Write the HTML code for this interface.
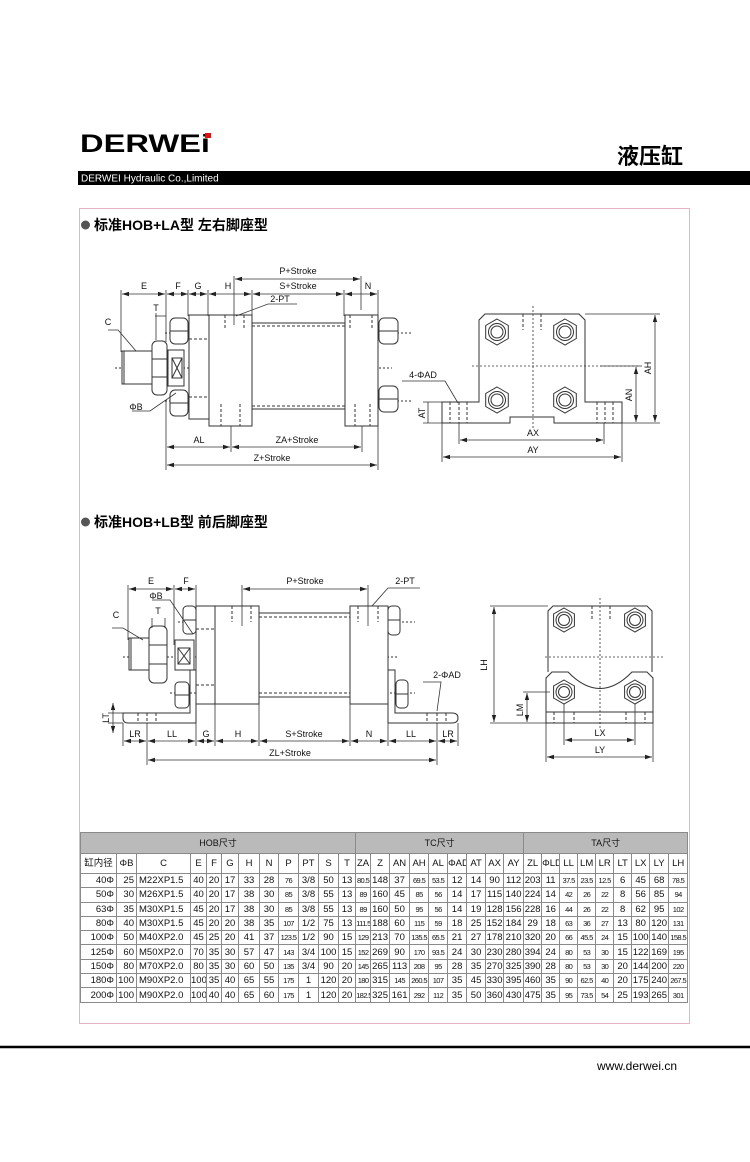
<!DOCTYPE html>
<html><head><meta charset="utf-8">
<style>
body{margin:0;background:#fff;}
#pg{position:relative;width:750px;height:1162px;overflow:hidden;font-family:"Liberation Sans","Noto Sans CJK SC",sans-serif;}
svg{position:absolute;left:0;top:0;}
table{position:absolute;left:80px;top:832px;border-collapse:collapse;table-layout:fixed;width:607px;font-size:9.5px;color:#111;}
td{border:1px solid #8a8a8a;padding:0;text-align:center;height:13.3px;line-height:13px;white-space:nowrap;overflow:hidden;}
tr.h1 td{background:#bababa;height:20px;font-size:9px;}
tr.h2 td{height:19px;font-size:9.5px;}
td.l{text-align:left;padding-left:2px}
td.r{text-align:right;padding-right:2px}
.s{font-size:7.5px;letter-spacing:-0.6px}
</style></head><body><div id="pg">
<svg width="750" height="1162" viewBox="0 0 750 1162" font-family="Liberation Sans, Noto Sans CJK SC, sans-serif">
<defs>
<marker id="a" markerWidth="8" markerHeight="6" refX="7" refY="3" orient="auto-start-reverse" markerUnits="userSpaceOnUse"><path d="M0,0.8 L7,3 L0,5.2 z" fill="#222"/></marker>
<g id="hx"><polygon points="0,-13 11.3,-6.5 11.3,6.5 0,13 -11.3,6.5 -11.3,-6.5" fill="#fff" stroke="#333"/><circle r="8.5" fill="none" stroke="#333"/><circle r="6" fill="none" stroke="#333"/></g>
<g id="hs"><polygon points="0,-12 10.4,-6 10.4,6 0,12 -10.4,6 -10.4,-6" fill="#fff" stroke="#333"/><circle r="8" fill="none" stroke="#333"/><circle r="5.5" fill="none" stroke="#333"/></g>
</defs>
<!-- header -->
<text x="80" y="152" font-size="25" font-weight="900" textLength="130" lengthAdjust="spacingAndGlyphs">DERWEi</text>
<rect x="205" y="133" width="6" height="5" fill="#e01010"/>
<text x="617" y="164" font-size="22" font-weight="bold">液压缸</text>
<rect x="78" y="171" width="672" height="14" fill="#000"/>
<text x="81" y="181.5" font-size="10" fill="#fff">DERWEI Hydraulic Co.,Limited</text>
<rect x="79.5" y="208.5" width="610" height="815" fill="none" stroke="#e6b3c6"/>
<line x1="0" y1="1047" x2="750" y2="1047" stroke="#000" stroke-width="2.5"/>
<text x="597" y="1070" font-size="12">www.derwei.cn</text>
<!-- headings -->
<circle cx="85.5" cy="225" r="4.5" fill="#555"/>
<text x="94" y="230" font-size="14" font-weight="bold">标准HOB+LA型 左右脚座型</text>
<circle cx="85.5" cy="522" r="4.5" fill="#555"/>
<text x="94" y="527" font-size="14" font-weight="bold">标准HOB+LB型 前后脚座型</text>

<g stroke="#333" stroke-width="1" fill="none">
<!-- ===== Drawing 1 side view ===== -->
<line x1="115" y1="368" x2="392" y2="368" stroke-dasharray="2,2"/>
<line x1="165" y1="333" x2="412" y2="333" stroke-dasharray="2,2"/>
<line x1="165" y1="401" x2="412" y2="401" stroke-dasharray="2,2"/>
<rect x="122" y="351" width="30" height="33" fill="#fff"/>
<line x1="124" y1="351" x2="124" y2="384"/>
<rect x="152" y="341" width="15" height="54" rx="5" fill="#fff"/>
<line x1="152" y1="359" x2="167" y2="359"/><line x1="152" y1="377" x2="167" y2="377"/>
<rect x="168" y="350" width="16" height="36" fill="#fff"/>
<rect x="172" y="358" width="10" height="20"/><path d="M172,358 L182,378 M182,358 L172,378"/>
<rect x="189" y="315" width="20" height="104" fill="#fff"/>
<rect x="209" y="315" width="43" height="111" fill="#fff"/>
<rect x="252" y="323" width="93" height="86" fill="#fff"/>
<rect x="345" y="315" width="33" height="111" fill="#fff"/>
<rect x="170" y="318" width="18" height="26" rx="5" fill="#fff"/><line x1="170" y1="331" x2="188" y2="331"/>
<rect x="170" y="390" width="18" height="26" rx="5" fill="#fff"/><line x1="170" y1="403" x2="188" y2="403"/>
<rect x="379" y="318" width="19" height="26" rx="5" fill="#fff"/><line x1="379" y1="331" x2="398" y2="331"/>
<rect x="379" y="386" width="19" height="26" rx="5" fill="#fff"/><line x1="379" y1="399" x2="398" y2="399"/>
<g stroke-dasharray="3,2">
<line x1="225" y1="315" x2="225" y2="330"/><line x1="244" y1="315" x2="244" y2="330"/>
<line x1="350" y1="315" x2="350" y2="330"/><line x1="372" y1="315" x2="372" y2="330"/>
<line x1="221" y1="404" x2="221" y2="426"/><line x1="240" y1="404" x2="240" y2="426"/>
<line x1="355" y1="404" x2="355" y2="426"/><line x1="370" y1="404" x2="370" y2="426"/>
<line x1="252" y1="326" x2="345" y2="326"/><line x1="252" y1="406" x2="345" y2="406"/>
<line x1="189" y1="339" x2="209" y2="339"/><line x1="189" y1="397" x2="209" y2="397"/>
</g>
<!-- dims top -->
<g stroke-width="0.8">
<line x1="121" y1="290" x2="121" y2="352"/><line x1="166" y1="290" x2="166" y2="342"/>
<line x1="188" y1="290" x2="188" y2="316"/><line x1="208" y1="290" x2="208" y2="316"/>
<line x1="252" y1="290" x2="252" y2="316"/><line x1="344" y1="290" x2="344" y2="316"/>
<line x1="378" y1="290" x2="378" y2="316"/><line x1="234" y1="276" x2="234" y2="325"/>
<line x1="361" y1="276" x2="361" y2="310"/>
<line x1="167" y1="294" x2="188" y2="294" marker-start="url(#a)" marker-end="url(#a)"/>
<line x1="122" y1="294" x2="165" y2="294" marker-start="url(#a)" marker-end="url(#a)"/>
<line x1="189" y1="294" x2="207" y2="294" marker-start="url(#a)" marker-end="url(#a)"/>
<line x1="209" y1="294" x2="251" y2="294" marker-start="url(#a)" marker-end="url(#a)"/>
<line x1="253" y1="294" x2="343" y2="294" marker-start="url(#a)" marker-end="url(#a)"/>
<line x1="345" y1="294" x2="377" y2="294" marker-start="url(#a)" marker-end="url(#a)"/>
<line x1="235" y1="279" x2="360" y2="279" marker-start="url(#a)" marker-end="url(#a)"/>
<line x1="155" y1="316" x2="166" y2="316"/><line x1="156" y1="313" x2="156" y2="340"/>
<path d="M236,316 L268,304 L297,304"/>
<path d="M108,330 L118,330 L136,351"/>
<path d="M132,411 L150,411 L176,393"/>
<line x1="166" y1="400" x2="166" y2="470"/><line x1="378" y1="426" x2="378" y2="470"/>
<line x1="231" y1="426" x2="231" y2="452"/><line x1="362" y1="426" x2="362" y2="452"/>
<line x1="167" y1="447" x2="230" y2="447" marker-start="url(#a)" marker-end="url(#a)"/>
<line x1="232" y1="447" x2="361" y2="447" marker-start="url(#a)" marker-end="url(#a)"/>
<line x1="167" y1="465" x2="377" y2="465" marker-start="url(#a)" marker-end="url(#a)"/>
</g>
<!-- ===== Drawing 1 end view ===== -->
<path d="M479,402 L479,320 L485,314 L579,314 L585,320 L585,402 L622,402 L622,423 L554,423 L554,417 L510,417 L510,423 L442,423 L442,402 Z" fill="#fff"/>
<line x1="533" y1="306" x2="533" y2="430" stroke-dasharray="2,2" stroke-width="0.8"/>
<line x1="472" y1="366" x2="642" y2="366" stroke-dasharray="2,2" stroke-width="0.8"/>
<g stroke-dasharray="3,2"><line x1="523" y1="314" x2="523" y2="330"/><line x1="541" y1="314" x2="541" y2="330"/>
<line x1="450" y1="402" x2="450" y2="423"/><line x1="459" y1="402" x2="459" y2="423"/><line x1="467" y1="402" x2="467" y2="423"/>
<line x1="597" y1="402" x2="597" y2="423"/><line x1="605" y1="402" x2="605" y2="423"/><line x1="613" y1="402" x2="613" y2="423"/></g>
<use href="#hx" x="497" y="332"/><use href="#hx" x="565" y="332"/><use href="#hx" x="497" y="400"/><use href="#hx" x="565" y="400"/>
<g stroke-width="0.8">
<line x1="585" y1="314" x2="660" y2="314"/><line x1="622" y1="423" x2="660" y2="423"/><line x1="600" y1="366" x2="640" y2="366"/>
<line x1="655" y1="315" x2="655" y2="422" marker-start="url(#a)" marker-end="url(#a)"/>
<line x1="636" y1="367" x2="636" y2="422" marker-start="url(#a)" marker-end="url(#a)"/>
<line x1="423" y1="402" x2="442" y2="402"/><line x1="423" y1="423" x2="442" y2="423"/><line x1="428" y1="402" x2="428" y2="423"/>
<line x1="442" y1="423" x2="442" y2="462"/><line x1="622" y1="423" x2="622" y2="462"/>
<line x1="459" y1="423" x2="459" y2="444"/><line x1="604" y1="423" x2="604" y2="444"/>
<line x1="460" y1="440" x2="603" y2="440" marker-start="url(#a)" marker-end="url(#a)"/>
<line x1="443" y1="457" x2="621" y2="457" marker-start="url(#a)" marker-end="url(#a)"/>
<path d="M402,381 L445,381 L458,403"/>
</g>

<!-- ===== Drawing 2 side view ===== -->
<path d="M123,713 L190,713 L190,670 L196,670 L196,723 L128,723 Q123,723 123,718 Z" fill="#fff"/>
<path d="M388,670 L395,670 L395,713 L452,713 Q458,713 458,718 Q458,723 452,723 L388,723 Z" fill="#fff"/>
<line x1="123" y1="657" x2="398" y2="657" stroke-dasharray="2,2"/>
<line x1="178" y1="622" x2="415" y2="622" stroke-dasharray="2,2"/>
<line x1="170" y1="693" x2="415" y2="693" stroke-dasharray="2,2"/>
<rect x="129" y="638" width="21" height="32" fill="#fff"/><line x1="131" y1="638" x2="131" y2="670"/>
<rect x="149" y="626" width="18" height="57" rx="5" fill="#fff"/>
<line x1="149" y1="645" x2="167" y2="645"/><line x1="149" y1="664" x2="167" y2="664"/>
<rect x="175" y="640" width="19" height="30" fill="#fff"/>
<rect x="178" y="648" width="12" height="16"/><path d="M178,648 L190,664 M190,648 L178,664"/>
<rect x="196" y="606" width="19" height="98" fill="#fff"/>
<rect x="215" y="606" width="44" height="98" fill="#fff"/>
<rect x="259" y="613" width="91" height="84" fill="#fff"/>
<rect x="350" y="606" width="38" height="98" fill="#fff"/>
<rect x="183" y="606" width="13" height="28" rx="4" fill="#fff"/><line x1="183" y1="620" x2="196" y2="620"/>
<rect x="175" y="682" width="14" height="26" rx="4" fill="#fff"/><line x1="175" y1="695" x2="189" y2="695"/>
<rect x="388" y="606" width="12" height="29" rx="4" fill="#fff"/><line x1="388" y1="620" x2="400" y2="620"/>
<rect x="396" y="680" width="12" height="28" rx="4" fill="#fff"/><line x1="396" y1="694" x2="408" y2="694"/>
<g stroke-dasharray="3,2">
<line x1="232" y1="606" x2="232" y2="622"/><line x1="251" y1="606" x2="251" y2="622"/>
<line x1="358" y1="606" x2="358" y2="622"/><line x1="378" y1="606" x2="378" y2="622"/>
<line x1="259" y1="617" x2="350" y2="617"/><line x1="259" y1="693" x2="350" y2="693"/>
<line x1="196" y1="629" x2="215" y2="629"/><line x1="196" y1="685" x2="215" y2="685"/>
<line x1="138" y1="713" x2="138" y2="723"/><line x1="147" y1="713" x2="147" y2="723"/><line x1="156" y1="713" x2="156" y2="723"/>
<line x1="427" y1="713" x2="427" y2="723"/><line x1="437" y1="713" x2="437" y2="723"/><line x1="446" y1="713" x2="446" y2="723"/>
</g>
<g stroke-width="0.8">
<line x1="128" y1="585" x2="128" y2="640"/><line x1="174" y1="585" x2="174" y2="645"/><line x1="196" y1="585" x2="196" y2="606"/>
<line x1="129" y1="589" x2="173" y2="589" marker-start="url(#a)" marker-end="url(#a)"/>
<line x1="175" y1="589" x2="195" y2="589" marker-start="url(#a)" marker-end="url(#a)"/>
<line x1="242" y1="585" x2="242" y2="626"/><line x1="368" y1="585" x2="368" y2="626"/>
<line x1="243" y1="589" x2="367" y2="589" marker-start="url(#a)" marker-end="url(#a)"/>
<path d="M372,606 L388,588 L420,588"/>
<path d="M152,600 L170,600 L193,634"/>
<line x1="152" y1="618" x2="152" y2="628"/><line x1="165" y1="618" x2="165" y2="628"/>
<path d="M112,628 L123,628 L143,640"/>
<path d="M423,682 L441,682 L437,711"/>
<line x1="113" y1="703" x2="113" y2="733" marker-start="url(#a)" marker-end="url(#a)"/>
<line x1="108" y1="713" x2="123" y2="713"/><line x1="108" y1="723" x2="123" y2="723"/>
<line x1="123" y1="723" x2="123" y2="746"/><line x1="147" y1="723" x2="147" y2="765"/>
<line x1="196" y1="723" x2="196" y2="746"/><line x1="215" y1="704" x2="215" y2="746"/>
<line x1="259" y1="704" x2="259" y2="746"/><line x1="350" y1="704" x2="350" y2="746"/>
<line x1="388" y1="723" x2="388" y2="746"/><line x1="437" y1="723" x2="437" y2="765"/><line x1="458" y1="723" x2="458" y2="746"/>
<line x1="124" y1="741" x2="146" y2="741" marker-start="url(#a)" marker-end="url(#a)"/>
<line x1="148" y1="741" x2="195" y2="741" marker-start="url(#a)" marker-end="url(#a)"/>
<line x1="197" y1="741" x2="214" y2="741" marker-start="url(#a)" marker-end="url(#a)"/>
<line x1="216" y1="741" x2="258" y2="741" marker-start="url(#a)" marker-end="url(#a)"/>
<line x1="260" y1="741" x2="349" y2="741" marker-start="url(#a)" marker-end="url(#a)"/>
<line x1="351" y1="741" x2="387" y2="741" marker-start="url(#a)" marker-end="url(#a)"/>
<line x1="389" y1="741" x2="436" y2="741" marker-start="url(#a)" marker-end="url(#a)"/>
<line x1="438" y1="741" x2="457" y2="741" marker-start="url(#a)" marker-end="url(#a)"/>
<line x1="148" y1="760" x2="436" y2="760" marker-start="url(#a)" marker-end="url(#a)"/>
</g>
<!-- ===== Drawing 2 end view ===== -->
<path d="M548,672 L548,611 L553,606 L647,606 L652,611 L652,672" fill="#fff"/>
<path d="M546,723 L546,678 L552,672 L568,672 Q600,705 632,672 L647,672 L653,678 L653,723 Z" fill="#fff"/>
<line x1="546" y1="712" x2="653" y2="712"/>
<line x1="600" y1="598" x2="600" y2="730" stroke-dasharray="2,2" stroke-width="0.8"/>
<line x1="545" y1="657" x2="665" y2="657" stroke-dasharray="2,2" stroke-width="0.8"/>
<g stroke-dasharray="3,2"><line x1="592" y1="606" x2="592" y2="620"/><line x1="610" y1="606" x2="610" y2="620"/>
<line x1="554" y1="712" x2="554" y2="723"/><line x1="574" y1="712" x2="574" y2="723"/>
<line x1="626" y1="712" x2="626" y2="723"/><line x1="645" y1="712" x2="645" y2="723"/></g>
<use href="#hs" x="564" y="620"/><use href="#hs" x="635" y="620"/><use href="#hs" x="564" y="692"/><use href="#hs" x="635" y="692"/>
<g stroke-width="0.8">
<line x1="490" y1="606" x2="548" y2="606"/><line x1="490" y1="723" x2="546" y2="723"/>
<line x1="494" y1="607" x2="494" y2="722" marker-start="url(#a)" marker-end="url(#a)"/>
<line x1="523" y1="692" x2="550" y2="692"/>
<line x1="527" y1="693" x2="527" y2="722" marker-start="url(#a)" marker-end="url(#a)"/>
<line x1="546" y1="723" x2="546" y2="762"/><line x1="653" y1="723" x2="653" y2="762"/>
<line x1="564" y1="704" x2="564" y2="745"/><line x1="635" y1="704" x2="635" y2="745"/>
<line x1="565" y1="740" x2="634" y2="740" marker-start="url(#a)" marker-end="url(#a)"/>
<line x1="547" y1="757" x2="652" y2="757" marker-start="url(#a)" marker-end="url(#a)"/>
</g>
</g>
<!-- labels -->
<g font-size="9" fill="#111" text-anchor="middle">
<text x="144" y="289">E</text><text x="178" y="289">F</text><text x="198" y="289">G</text><text x="228" y="289">H</text>
<text x="298" y="289">S+Stroke</text><text x="368" y="289">N</text><text x="298" y="274">P+Stroke</text>
<text x="280" y="302">2-PT</text><text x="156" y="311">T</text><text x="108" y="325">C</text><text x="136" y="410">ΦB</text>
<text x="199" y="443">AL</text><text x="297" y="443">ZA+Stroke</text><text x="272" y="461">Z+Stroke</text>
<text x="423" y="378">4-ΦAD</text>
<text x="533" y="436">AX</text><text x="533" y="453">AY</text>
<text x="0" y="0" transform="translate(425,413) rotate(-90)">AT</text>
<text x="0" y="0" transform="translate(651,368) rotate(-90)">AH</text>
<text x="0" y="0" transform="translate(632,395) rotate(-90)">AN</text>
<text x="151" y="584">E</text><text x="186" y="584">F</text><text x="305" y="584">P+Stroke</text>
<text x="405" y="584">2-PT</text><text x="156" y="599">ΦB</text><text x="158" y="614">T</text><text x="116" y="618">C</text>
<text x="447" y="678">2-ΦAD</text>
<text x="0" y="0" transform="translate(109,718) rotate(-90)">LT</text>
<text x="135" y="737">LR</text><text x="172" y="737">LL</text><text x="206" y="737">G</text><text x="238" y="737">H</text>
<text x="304" y="737">S+Stroke</text><text x="369" y="737">N</text><text x="411" y="737">LL</text><text x="448" y="737">LR</text>
<text x="290" y="756">ZL+Stroke</text>
<text x="600" y="736">LX</text><text x="600" y="753">LY</text>
<text x="0" y="0" transform="translate(487,665) rotate(-90)">LH</text>
<text x="0" y="0" transform="translate(523,710) rotate(-90)">LM</text>
</g>
</svg>
<table>
<colgroup><col style="width:36px"><col style="width:20px"><col style="width:54px"><col style="width:16px"><col style="width:15px"><col style="width:17px"><col style="width:21px"><col style="width:19px"><col style="width:20px"><col style="width:20px"><col style="width:20px"><col style="width:17px"><col style="width:15px"><col style="width:19px"><col style="width:20px"><col style="width:19px"><col style="width:19px"><col style="width:19px"><col style="width:19px"><col style="width:18px"><col style="width:20px"><col style="width:18px"><col style="width:18px"><col style="width:18px"><col style="width:18px"><col style="width:18px"><col style="width:18px"><col style="width:18px"><col style="width:19px"><col style="width:19px"></colgroup>
<tr class="h1"><td colspan="12">HOB尺寸</td><td colspan="9">TC尺寸</td><td colspan="9">TA尺寸</td></tr>
<tr class="h2"><td>缸内径</td><td>ΦB</td><td>C</td><td>E</td><td>F</td><td>G</td><td>H</td><td>N</td><td>P</td><td>PT</td><td>S</td><td>T</td><td>ZA</td><td>Z</td><td>AN</td><td>AH</td><td>AL</td><td>ΦAD</td><td>AT</td><td>AX</td><td>AY</td><td>ZL</td><td>ΦLD</td><td>LL</td><td>LM</td><td>LR</td><td>LT</td><td>LX</td><td>LY</td><td>LH</td></tr>
<tr><td class="r">40Φ</td><td class="r">25</td><td class="l">M22XP1.5</td><td>40</td><td>20</td><td>17</td><td>33</td><td>28</td><td class="s">76</td><td>3/8</td><td>50</td><td>13</td><td class="s">80.5</td><td>148</td><td>37</td><td class="s">69.5</td><td class="s">53.5</td><td>12</td><td>14</td><td>90</td><td>112</td><td>203</td><td>11</td><td class="s">37.5</td><td class="s">23.5</td><td class="s">12.5</td><td>6</td><td>45</td><td>68</td><td class="s">78.5</td></tr>
<tr><td class="r">50Φ</td><td class="r">30</td><td class="l">M26XP1.5</td><td>40</td><td>20</td><td>17</td><td>38</td><td>30</td><td class="s">85</td><td>3/8</td><td>55</td><td>13</td><td class="s">89</td><td>160</td><td>45</td><td class="s">85</td><td class="s">56</td><td>14</td><td>17</td><td>115</td><td>140</td><td>224</td><td>14</td><td class="s">42</td><td class="s">26</td><td class="s">22</td><td>8</td><td>56</td><td>85</td><td class="s">94</td></tr>
<tr><td class="r">63Φ</td><td class="r">35</td><td class="l">M30XP1.5</td><td>45</td><td>20</td><td>17</td><td>38</td><td>30</td><td class="s">85</td><td>3/8</td><td>55</td><td>13</td><td class="s">89</td><td>160</td><td>50</td><td class="s">95</td><td class="s">56</td><td>14</td><td>19</td><td>128</td><td>156</td><td>228</td><td>16</td><td class="s">44</td><td class="s">26</td><td class="s">22</td><td>8</td><td>62</td><td>95</td><td class="s">102</td></tr>
<tr><td class="r">80Φ</td><td class="r">40</td><td class="l">M30XP1.5</td><td>45</td><td>20</td><td>20</td><td>38</td><td>35</td><td class="s">107</td><td>1/2</td><td>75</td><td>13</td><td class="s">111.5</td><td>188</td><td>60</td><td class="s">115</td><td class="s">59</td><td>18</td><td>25</td><td>152</td><td>184</td><td>29</td><td>18</td><td class="s">63</td><td class="s">36</td><td class="s">27</td><td>13</td><td>80</td><td>120</td><td class="s">131</td></tr>
<tr><td class="r">100Φ</td><td class="r">50</td><td class="l">M40XP2.0</td><td>45</td><td>25</td><td>20</td><td>41</td><td>37</td><td class="s">123.5</td><td>1/2</td><td>90</td><td>15</td><td class="s">129</td><td>213</td><td>70</td><td class="s">135.5</td><td class="s">65.5</td><td>21</td><td>27</td><td>178</td><td>210</td><td>320</td><td>20</td><td class="s">66</td><td class="s">45.5</td><td class="s">24</td><td>15</td><td>100</td><td>140</td><td class="s">158.5</td></tr>
<tr><td class="r">125Φ</td><td class="r">60</td><td class="l">M50XP2.0</td><td>70</td><td>35</td><td>30</td><td>57</td><td>47</td><td class="s">143</td><td>3/4</td><td>100</td><td>15</td><td class="s">152</td><td>269</td><td>90</td><td class="s">170</td><td class="s">93.5</td><td>24</td><td>30</td><td>230</td><td>280</td><td>394</td><td>24</td><td class="s">80</td><td class="s">53</td><td class="s">30</td><td>15</td><td>122</td><td>169</td><td class="s">195</td></tr>
<tr><td class="r">150Φ</td><td class="r">80</td><td class="l">M70XP2.0</td><td>80</td><td>35</td><td>30</td><td>60</td><td>50</td><td class="s">135</td><td>3/4</td><td>90</td><td>20</td><td class="s">145</td><td>265</td><td>113</td><td class="s">208</td><td class="s">95</td><td>28</td><td>35</td><td>270</td><td>325</td><td>390</td><td>28</td><td class="s">80</td><td class="s">53</td><td class="s">30</td><td>20</td><td>144</td><td>200</td><td class="s">220</td></tr>
<tr><td class="r">180Φ</td><td class="r">100</td><td class="l">M90XP2.0</td><td>100</td><td>35</td><td>40</td><td>65</td><td>55</td><td class="s">175</td><td>1</td><td>120</td><td>20</td><td class="s">180</td><td>315</td><td class="s">145</td><td class="s">260.5</td><td class="s">107</td><td>35</td><td>45</td><td>330</td><td>395</td><td>460</td><td>35</td><td class="s">90</td><td class="s">62.5</td><td class="s">40</td><td>20</td><td>175</td><td>240</td><td class="s">267.5</td></tr>
<tr><td class="r">200Φ</td><td class="r">100</td><td class="l">M90XP2.0</td><td>100</td><td>40</td><td>40</td><td>65</td><td>60</td><td class="s">175</td><td>1</td><td>120</td><td>20</td><td class="s">182.5</td><td>325</td><td>161</td><td class="s">292</td><td class="s">112</td><td>35</td><td>50</td><td>360</td><td>430</td><td>475</td><td>35</td><td class="s">95</td><td class="s">73.5</td><td class="s">54</td><td>25</td><td>193</td><td>265</td><td class="s">301</td></tr>
</table>
</div></body></html>
